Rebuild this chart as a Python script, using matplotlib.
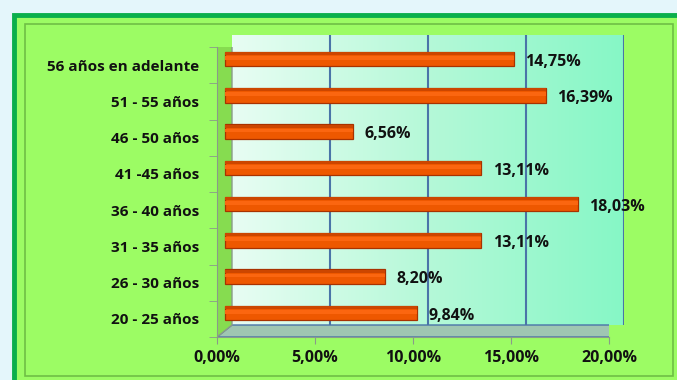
import matplotlib.pyplot as plt
import matplotlib.patches as mpatches
import matplotlib.transforms as mtransforms
import numpy as np

# age groups, bottom to top, and their share in percent
grupos = ["20 - 25 años", "26 - 30 años", "31 - 35 años", "36 - 40 años",
          "41 -45 años", "46 - 50 años", "51 - 55 años", "56 años en adelante"]
porcentajes = [9.84, 8.20, 13.11, 18.03, 13.11, 6.56, 16.39, 14.75]
ticks_x = [0, 5, 10, 15, 20]

W, H = 677, 380
fig = plt.figure(figsize=(W / 100, H / 100), dpi=100)
fig.patch.set_facecolor("white")
FONT = "Open Sans"


def px(x0, y0, x1, y1):
    # pixel box (top-left origin) -> figure fraction rect
    return [x0 / W, 1 - y1 / H, (x1 - x0) / W, (y1 - y0) / H]


# light blue glow at top/left edge, then the green frame
glow = fig.add_axes([0, 0, 1, 1], zorder=-10)
glow.set_xlim(0, W)
glow.set_ylim(H, 0)
glow.axis("off")
glow.add_patch(mpatches.Rectangle((0, 0), W, H, color="#e4f6fb"))
glow.add_patch(mpatches.Rectangle((14, 15), W, H, facecolor="#9cfc64",
                                  edgecolor="#0aaf4c", lw=3.5))
glow.add_patch(mpatches.Rectangle((25, 24), 648, 352, facecolor="none",
                                  edgecolor="#6fbf45", lw=1.2))

# back wall with its gradient and gridlines
DX, DY = 15, 12
front = (217, 47, 609, 337)
back = fig.add_axes(px(front[0] + DX, front[1] - DY, front[2] + DX, front[3] - DY), zorder=0)
grad = np.linspace(0, 1, 256)[None, :]
cmap = plt.matplotlib.colors.LinearSegmentedColormap.from_list(
    "pared", ["#e8fdf3", "#b5f9d8", "#86f7c6"])
back.imshow(grad, aspect="auto", cmap=cmap, extent=[0, 20, 0, 1])
back.set_xlim(0, 20)
back.set_ylim(0, 1)
for t in ticks_x[1:]:
    back.axvline(t, color="#4a74a8", lw=1.5)
back.axis("off")

# front axes holding the bars
ax = fig.add_axes(px(*front), zorder=1)
ax.set_facecolor("none")
ax.set_xlim(0, 20)
ax.set_ylim(-0.5, len(grupos) - 0.5)
for s in ["top", "right"]:
    ax.spines[s].set_visible(False)
ax.spines["left"].set_color("#8a9a8a")
ax.spines["bottom"].set_color("#8a9a8a")

# floor and left wall of the 3d box
off = mtransforms.offset_copy(ax.transData, fig, x=DX, y=DY, units="dots")
floor = [ax.transData.transform((0, -0.5)), ax.transData.transform((20, -0.5)),
         off.transform((20, -0.5)), off.transform((0, -0.5))]
ax.add_patch(mpatches.Polygon(floor, closed=True, transform=None,
                              facecolor="#9fc6b2", edgecolor="#4a74a8", lw=1.0, zorder=0))
wall = [ax.transData.transform((0, -0.5)), off.transform((0, -0.5)),
        off.transform((0, len(grupos) - 0.5)), ax.transData.transform((0, len(grupos) - 0.5))]
ax.add_patch(mpatches.Polygon(wall, closed=True, transform=None,
                              facecolor="#86dc50", edgecolor="#8a9a8a", lw=1.0, zorder=0))

# bars, sitting halfway into the depth
mid = mtransforms.offset_copy(ax.transData, fig, x=DX / 2, y=DY / 2, units="dots")
y = np.arange(len(grupos))
ax.barh(y, porcentajes, height=0.40, color="#ee5800", edgecolor="#a83200",
        lw=0.9, transform=mid, zorder=3)
ax.barh(y + 0.15, porcentajes, height=0.08, color="#cc4600", lw=0,
        transform=mid, zorder=3)
ax.barh(y + 0.03, porcentajes, height=0.10, color="#fb6610", lw=0,
        transform=mid, zorder=3)

for yi, v in zip(y, porcentajes):
    ax.annotate(f"{v:.2f}%".replace(".", ","), (v, yi), xycoords=mid,
                xytext=(8, -2), textcoords="offset points", va="center", ha="left",
                fontsize=11.5, fontweight="bold", fontfamily=FONT, color="#111111", zorder=4)

ax.set_xticks(ticks_x)
ax.set_xticklabels([f"{t:.2f}%".replace(".", ",") for t in ticks_x],
                   fontsize=11.5, fontweight="bold", fontfamily=FONT, color="#111111")
ax.set_yticks(y)
ax.set_yticklabels(grupos, fontsize=11, fontweight="bold", fontfamily=FONT, color="#111111")
ax.set_yticks(np.arange(-0.5, len(grupos)), minor=True)
ax.tick_params(axis="y", which="major", length=0, pad=13)
ax.tick_params(axis="y", which="minor", length=6, color="#8a9a8a")
ax.tick_params(axis="x", length=5, color="#8a9a8a", pad=4)

fig.savefig("out.png", dpi=100, facecolor=fig.get_facecolor())
